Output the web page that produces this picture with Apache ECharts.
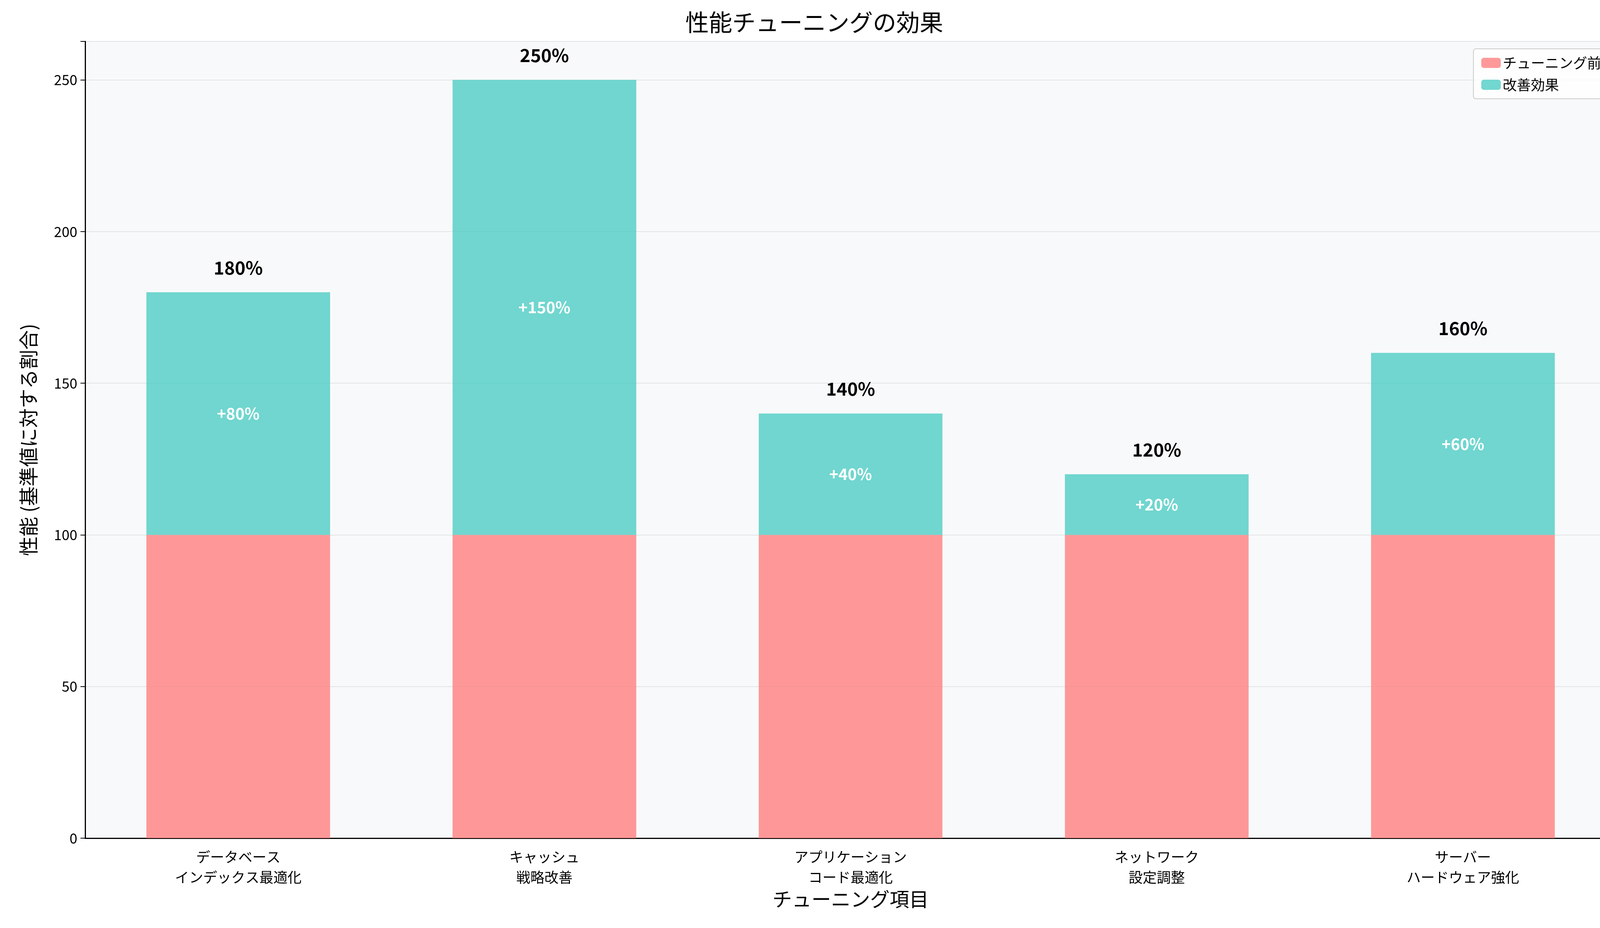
<!DOCTYPE html>
<html><head><meta charset="utf-8">
<script src="https://cdn.jsdelivr.net/npm/echarts@6/dist/echarts.min.js"></script>
<style>html,body{margin:0;padding:0;background:#fff}#c{width:4169px;height:2376px}</style>
</head><body><div id="c"></div>
<script>
// チューニング項目と値
const categories = ['データベース\nインデックス最適化', 'キャッシュ\n戦略改善', 'アプリケーション\nコード最適化', 'ネットワーク\n設定調整', 'サーバー\nハードウェア強化'];
const before = [100, 100, 100, 100, 100];
const improvement = [80, 150, 40, 20, 60];
const yTicks = [0, 50, 100, 150, 200, 250];

const font = '"Noto Sans CJK JP", "DejaVu Sans", sans-serif';
const chart = echarts.init(document.getElementById('c'));

chart.setOption({
  backgroundColor: '#ffffff',
  textStyle: { fontFamily: font },
  title: {
    text: '性能チューニングの効果', left: 'center', top: 22,
    textStyle: { fontSize: 60, fontWeight: 'normal', color: '#000', fontFamily: font }
  },
  legend: {
    right: 50, top: 125, orient: 'vertical', itemWidth: 50, itemHeight: 26, itemGap: 20,
    padding: [18, 20], borderColor: '#cccccc', borderWidth: 2, borderRadius: 6,
    backgroundColor: 'rgba(255,255,255,0.8)',
    textStyle: { fontSize: 36, color: '#000', fontFamily: font },
    data: ['チューニング前', '改善効果']
  },
  grid: { left: 218, right: 32, top: 106, bottom: 230, backgroundColor: '#f8f9fa', show: true, borderWidth: 0 },
  xAxis: {
    type: 'category', data: categories,
    name: 'チューニング項目', nameLocation: 'middle', nameGap: 125,
    nameTextStyle: { fontSize: 50, color: '#000', fontFamily: font },
    axisLine: { lineStyle: { color: '#000', width: 3 } },
    axisTick: { alignWithLabel: true, length: 12, lineStyle: { color: '#000', width: 2 } },
    axisLabel: { fontSize: 36, color: '#000', margin: 22, lineHeight: 52, fontFamily: font }
  },
  yAxis: {
    type: 'value', min: 0, max: 262.7, interval: 50,
    name: '性能 (基準値に対する割合)', nameLocation: 'middle', nameGap: 120,
    nameTextStyle: { fontSize: 50, color: '#000', fontFamily: font },
    axisLine: { show: true, lineStyle: { color: '#000', width: 3 } },
    axisTick: { show: true, length: 12, lineStyle: { color: '#000', width: 2 } },
    axisLabel: { fontSize: 36, color: '#000', margin: 20,
      formatter: v => yTicks.includes(v) ? String(v) : '' },
    splitLine: { lineStyle: { color: '#e2e4e6', width: 2 } }
  },
  series: [
    {
      name: 'チューニング前', type: 'bar', stack: 't', data: before,
      barWidth: '60%', itemStyle: { color: 'rgba(255,128,128,0.8)' }
    },
    {
      name: '改善効果', type: 'bar', stack: 't', data: improvement,
      itemStyle: { color: 'rgba(78,205,196,0.8)' },
      label: {
        show: true, position: 'inside', color: '#fff', fontWeight: 'bold', fontSize: 40,
        formatter: p => '+' + p.value + '%'
      }
    },
    {
      name: 'total', type: 'bar', stack: 't', data: before.map(() => 0),
      itemStyle: { color: 'transparent' },
      label: {
        show: true, position: 'top', distance: 40, color: '#000', fontWeight: 'bold', fontSize: 46,
        formatter: p => (before[p.dataIndex] + improvement[p.dataIndex]) + '%'
      }
    }
  ]
});
</script></body></html>
